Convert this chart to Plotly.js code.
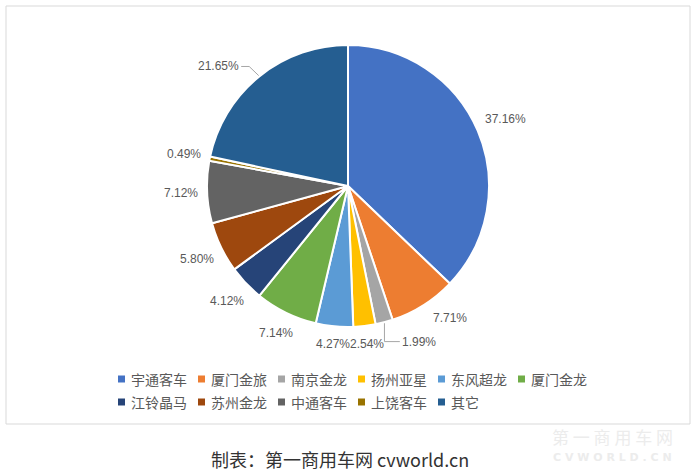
<!DOCTYPE html>
<html><head><meta charset="utf-8">
<script src="https://cdn.plot.ly/plotly-3.0.1.min.js"></script>
<style>html,body{margin:0;padding:0;background:#fff}</style>
</head><body>
<div id="chart" style="width:700px;height:472px"></div>
<script>
const categories = ['宇通客车','厦门金旅','南京金龙','扬州亚星','东风超龙','厦门金龙','江铃晶马','苏州金龙','中通客车','上饶客车','其它'];
const shares = [37.16, 7.71, 1.99, 2.54, 4.27, 7.14, 4.12, 5.80, 7.12, 0.49, 21.65];
const colors = ['#4472C4','#ED7D31','#A5A5A5','#FFC000','#5B9BD5','#70AD47','#264478','#9E480E','#636363','#997300','#255E91'];
const caption = '制表：第一商用车网 cvworld.cn';

const W = 700, H = 472;
const px = x => x / W, py = y => 1 - y / H;

// pie geometry (pixels)
const CX = 348, CY = 186, R = 141;

// label nudges for labels moved away from their default spot
const labelNudge = {1: [14, -7], 2: [30, 0], 10: [-24, 11]};
const leaderLines = [2, 10];

const total = shares.reduce((a, b) => a + b, 0);
const annotations = [];
const shapes = [];
let cum = 0;
shares.forEach((v, i) => {
  const mid = (cum + v / 2) / total * 2 * Math.PI;
  cum += v;
  const dx = Math.sin(mid), dy = -Math.cos(mid);
  const txt = v.toFixed(2) + '%';
  const w = txt.length * 6.6, h = 14;
  const dist = R + 9 + Math.abs(dx) * w / 2 + Math.abs(dy) * h / 2;
  let lx = CX + dx * dist, ly = CY + dy * dist;
  const nud = labelNudge[i];
  if (nud) { lx += nud[0]; ly += nud[1]; }
  if (leaderLines.includes(i)) {
    const ex = CX + dx * (R + 1), ey = CY + dy * (R + 1);
    let path;
    if (dx > 0) {
      const tx = lx - w / 2 - 3;
      path = `M${px(ex)},${py(ey)} L${px(ex)},${py(ly)} L${px(tx)},${py(ly)}`;
    } else {
      const tx = lx + w / 2 + 3;
      path = `M${px(tx)},${py(ly)} L${px(tx + 8)},${py(ly)} L${px(ex)},${py(ey)}`;
    }
    shapes.push({type: 'path', xref: 'paper', yref: 'paper', path: path, line: {color: '#a6a6a6', width: 1}});
  }
  annotations.push({text: txt, xref: 'paper', yref: 'paper', x: px(lx), y: py(ly), xanchor: 'center', yanchor: 'middle',
    showarrow: false, font: {family: '"Liberation Sans", Arial, sans-serif', size: 12, color: '#595959'}});
});

// legend (two rows, six per row)
categories.forEach((c, i) => {
  const row = Math.floor(i / 6), col = i % 6;
  const x0 = 118 + col * 80, yc = 379 + row * 23;
  shapes.push({type: 'rect', xref: 'paper', yref: 'paper', x0: px(x0), x1: px(x0 + 7), y0: py(yc + 3.5), y1: py(yc - 3.5),
    fillcolor: colors[i], line: {width: 0}});
  annotations.push({text: c, xref: 'paper', yref: 'paper', x: px(x0 + 11), y: py(yc), xanchor: 'left', yanchor: 'middle',
    showarrow: false, font: {family: '"Noto Sans CJK SC", sans-serif', size: 14, color: '#595959'}});
});

shapes.push({type: 'rect', xref: 'paper', yref: 'paper', x0: px(6), x1: px(690), y0: py(424), y1: py(6),
  line: {color: '#d9d9d9', width: 1}, fillcolor: 'rgba(0,0,0,0)', layer: 'below'});

annotations.push(
  {text: caption, xref: 'paper', yref: 'paper', x: px(340), y: py(459), xanchor: 'center', yanchor: 'middle', showarrow: false,
   font: {family: '"Noto Sans CJK SC", sans-serif', size: 18, color: '#333333'}},
  {text: '第 一 商 用 车 网', xref: 'paper', yref: 'paper', x: px(612), y: py(436), xanchor: 'center', yanchor: 'middle', showarrow: false,
   font: {family: '"Noto Sans CJK SC", sans-serif', size: 17, color: '#ececec'}},
  {text: '<b>C V W O R L D . C N</b>', xref: 'paper', yref: 'paper', x: px(612), y: py(457), xanchor: 'center', yanchor: 'middle', showarrow: false,
   font: {family: '"DejaVu Sans", sans-serif', size: 11, color: '#ececec'}}
);

const trace = {
  type: 'pie',
  labels: categories,
  values: shares,
  textinfo: 'none',
  sort: false,
  direction: 'clockwise',
  rotation: 0,
  marker: {colors: colors, line: {color: '#ffffff', width: 2}},
  domain: {x: [px(CX - R), px(CX + R)], y: [py(CY + R), py(CY - R)]},
  hoverinfo: 'label+percent'
};

const layout = {
  width: W, height: H,
  margin: {l: 0, r: 0, t: 0, b: 0},
  paper_bgcolor: '#ffffff',
  showlegend: false,
  shapes: shapes,
  annotations: annotations
};

Plotly.newPlot('chart', [trace], layout, {displayModeBar: false, staticPlot: true});
</script>
</body></html>
